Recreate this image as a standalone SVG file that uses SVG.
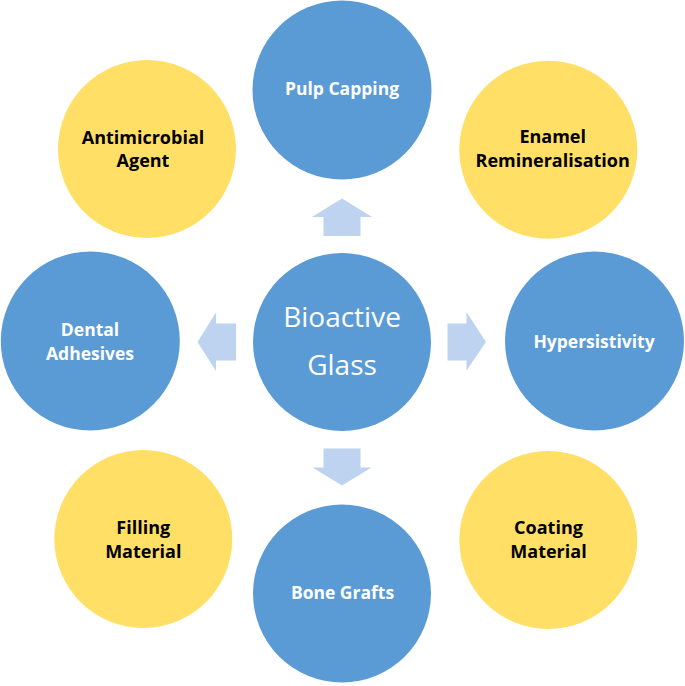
<svg xmlns="http://www.w3.org/2000/svg" width="685" height="686" viewBox="0 0 685 686">
<style>
.blue{fill:#5B9BD5}
.yellow{fill:#FFDF66}
.arrow{fill:#BDD3F0}
text{font-family:"Open Sans","Liberation Sans",sans-serif;text-anchor:middle}
.lw{font-weight:bold;font-size:17.5px;fill:#FFFFFF}
.lb{font-weight:bold;font-size:18px;fill:#000000}
.center{font-size:28px;fill:#FFFFFF}
</style>
<rect width="685" height="686" fill="#FFFFFF"/>
<g id="connectors">
<polygon class="arrow" points="323.5,236 323.5,217 312,217 342,198.5 372,217 360.5,217 360.5,236"/>
<polygon class="arrow" points="323.5,448.5 323.5,467.5 312.5,467.5 342,485.5 371.5,467.5 360.5,467.5 360.5,448.5"/>
<polygon class="arrow" points="236,323.5 216,323.5 216,312.5 197.5,342 216,371 216,360.5 236,360.5"/>
<polygon class="arrow" points="447.5,323.5 466.5,323.5 466.5,312 486,342 466.5,370.5 466.5,360.5 447.5,360.5"/>
</g>
<g id="bioactive-glass">
<circle class="blue" cx="342" cy="342" r="89"/>
<text class="center" x="342" y="327">Bioactive</text>
<text class="center" x="342" y="375">Glass</text>
</g>
<g id="pulp-capping">
<circle class="blue" cx="342" cy="90" r="89.5"/>
<text class="lw" x="342" y="95">Pulp Capping</text>
</g>
<g id="antimicrobial-agent">
<circle class="yellow" cx="147" cy="149" r="89"/>
<text class="lb" x="143" y="143.5">Antimicrobial</text>
<text class="lb" x="143" y="167">Agent</text>
</g>
<g id="enamel-remineralisation">
<circle class="yellow" cx="548.3" cy="149.7" r="89"/>
<text class="lb" x="552.7" y="143">Enamel</text>
<text class="lb" x="552.7" y="166.5">Remineralisation</text>
</g>
<g id="dental-adhesives">
<circle class="blue" cx="90.3" cy="341" r="89.5"/>
<text class="lw" x="90" y="336">Dental</text>
<text class="lw" x="90" y="359.5">Adhesives</text>
</g>
<g id="hypersistivity">
<circle class="blue" cx="594.5" cy="341" r="89.5"/>
<text class="lw" x="594" y="347.5">Hypersistivity</text>
</g>
<g id="filling-material">
<circle class="yellow" cx="143.3" cy="539" r="89"/>
<text class="lb" x="143.3" y="533.5">Filling</text>
<text class="lb" x="143.3" y="557.5">Material</text>
</g>
<g id="bone-grafts">
<circle class="blue" cx="342" cy="593.5" r="89"/>
<text class="lw" x="342.5" y="599.3">Bone Grafts</text>
</g>
<g id="coating-material">
<circle class="yellow" cx="548.3" cy="540" r="89"/>
<text class="lb" x="548.5" y="534">Coating</text>
<text class="lb" x="548.5" y="557.5">Material</text>
</g>
</svg>
